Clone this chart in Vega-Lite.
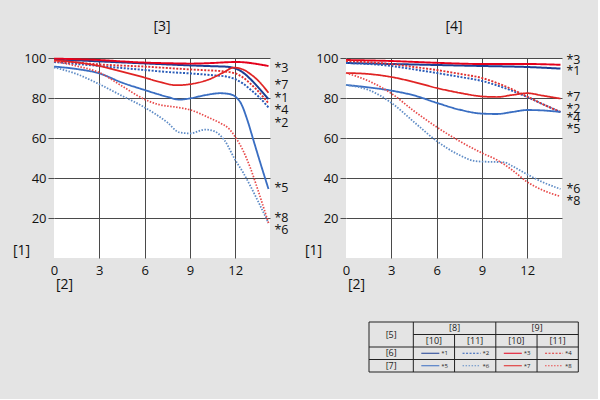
{
  "$schema": "https://vega.github.io/schema/vega-lite/v6.json",
  "background": "#e4e4e4",
  "padding": {"left": 12, "top": 20, "right": 17, "bottom": 26},
  "config": {
    "font": "Open Sans",
    "view": {"fill": "white", "stroke": null},
    "axis": {"gridColor": "#4a4a4a", "gridWidth": 1, "labelFontSize": 13, "labelColor": "#111", "titleFontSize": 14, "titleFontWeight": "normal", "titleColor": "#111", "domain": false, "labelFont": "Open Sans", "titleFont": "Open Sans"},
    "title": {"fontSize": 14, "fontWeight": "normal", "color": "#111", "offset": 18, "font": "Open Sans"}
  },
  "datasets": {
    "leftLines": [
      {"series": "*1", "x": 0, "y": 99}, {"series": "*1", "x": 1.5, "y": 98.8}, {"series": "*1", "x": 3, "y": 98.3}, {"series": "*1", "x": 4.5, "y": 97.8}, {"series": "*1", "x": 6, "y": 97.3}, {"series": "*1", "x": 7.5, "y": 96.8}, {"series": "*1", "x": 9, "y": 96.3}, {"series": "*1", "x": 10.5, "y": 95.9}, {"series": "*1", "x": 11.5, "y": 95.6}, {"series": "*1", "x": 12, "y": 94.8}, {"series": "*1", "x": 12.5, "y": 92.8}, {"series": "*1", "x": 13, "y": 89.5}, {"series": "*1", "x": 13.5, "y": 85.5}, {"series": "*1", "x": 14.2, "y": 79.4},
      {"series": "*2", "x": 0, "y": 98}, {"series": "*2", "x": 1.5, "y": 97}, {"series": "*2", "x": 3, "y": 96}, {"series": "*2", "x": 4.5, "y": 95}, {"series": "*2", "x": 6, "y": 94}, {"series": "*2", "x": 7.5, "y": 93}, {"series": "*2", "x": 9, "y": 92.3}, {"series": "*2", "x": 10.5, "y": 91.4}, {"series": "*2", "x": 11.5, "y": 90.6}, {"series": "*2", "x": 12, "y": 89.4}, {"series": "*2", "x": 12.5, "y": 87.3}, {"series": "*2", "x": 13, "y": 84.3}, {"series": "*2", "x": 13.5, "y": 81}, {"series": "*2", "x": 14.2, "y": 75.3},
      {"series": "*3", "x": 0, "y": 99.7}, {"series": "*3", "x": 1.5, "y": 99.4}, {"series": "*3", "x": 3, "y": 99}, {"series": "*3", "x": 4.5, "y": 98.3}, {"series": "*3", "x": 6, "y": 97.7}, {"series": "*3", "x": 7.5, "y": 97.4}, {"series": "*3", "x": 9, "y": 97.2}, {"series": "*3", "x": 10.5, "y": 97.5}, {"series": "*3", "x": 11.5, "y": 97.9}, {"series": "*3", "x": 12, "y": 98}, {"series": "*3", "x": 12.5, "y": 97.9}, {"series": "*3", "x": 13, "y": 97.5}, {"series": "*3", "x": 13.6, "y": 96.8}, {"series": "*3", "x": 14.2, "y": 96},
      {"series": "*4", "x": 0, "y": 98.6}, {"series": "*4", "x": 1.5, "y": 97.7}, {"series": "*4", "x": 3, "y": 96.8}, {"series": "*4", "x": 4.5, "y": 96.2}, {"series": "*4", "x": 6, "y": 95.7}, {"series": "*4", "x": 7.5, "y": 95}, {"series": "*4", "x": 9, "y": 94.3}, {"series": "*4", "x": 10, "y": 93.9}, {"series": "*4", "x": 11, "y": 93.5}, {"series": "*4", "x": 12, "y": 92.3}, {"series": "*4", "x": 12.5, "y": 90.3}, {"series": "*4", "x": 13, "y": 87.2}, {"series": "*4", "x": 13.5, "y": 83.5}, {"series": "*4", "x": 14.2, "y": 77.4},
      {"series": "*5", "x": 0, "y": 95.7}, {"series": "*5", "x": 1.5, "y": 94.5}, {"series": "*5", "x": 3, "y": 92.3}, {"series": "*5", "x": 4.5, "y": 87.7}, {"series": "*5", "x": 6, "y": 84}, {"series": "*5", "x": 7.5, "y": 80.6}, {"series": "*5", "x": 8.3, "y": 79.2}, {"series": "*5", "x": 9, "y": 79.8}, {"series": "*5", "x": 10, "y": 81.4}, {"series": "*5", "x": 11, "y": 82.4}, {"series": "*5", "x": 11.6, "y": 82}, {"series": "*5", "x": 12, "y": 80.7}, {"series": "*5", "x": 12.4, "y": 77}, {"series": "*5", "x": 12.8, "y": 69}, {"series": "*5", "x": 13.2, "y": 59}, {"series": "*5", "x": 13.6, "y": 49}, {"series": "*5", "x": 14.2, "y": 34.5},
      {"series": "*6", "x": 0, "y": 95.3}, {"series": "*6", "x": 1.5, "y": 92}, {"series": "*6", "x": 3, "y": 86.9}, {"series": "*6", "x": 4.5, "y": 81.1}, {"series": "*6", "x": 6, "y": 75.3}, {"series": "*6", "x": 7.5, "y": 67.8}, {"series": "*6", "x": 8.3, "y": 62.8}, {"series": "*6", "x": 9, "y": 62.3}, {"series": "*6", "x": 10, "y": 64.2}, {"series": "*6", "x": 10.5, "y": 63.7}, {"series": "*6", "x": 11.3, "y": 58.7}, {"series": "*6", "x": 12, "y": 49}, {"series": "*6", "x": 12.5, "y": 43}, {"series": "*6", "x": 13, "y": 36}, {"series": "*6", "x": 13.5, "y": 28.5}, {"series": "*6", "x": 14.2, "y": 17.5},
      {"series": "*7", "x": 0, "y": 98.8}, {"series": "*7", "x": 1.5, "y": 97.8}, {"series": "*7", "x": 3, "y": 96}, {"series": "*7", "x": 4.5, "y": 93.2}, {"series": "*7", "x": 6, "y": 90.2}, {"series": "*7", "x": 7, "y": 88}, {"series": "*7", "x": 8.1, "y": 86.4}, {"series": "*7", "x": 9, "y": 86.9}, {"series": "*7", "x": 10.3, "y": 89.4}, {"series": "*7", "x": 11.2, "y": 92.7}, {"series": "*7", "x": 11.9, "y": 95.2}, {"series": "*7", "x": 12.5, "y": 94.3}, {"series": "*7", "x": 13, "y": 92}, {"series": "*7", "x": 13.5, "y": 88.8}, {"series": "*7", "x": 14.2, "y": 82.6},
      {"series": "*8", "x": 0, "y": 98.3}, {"series": "*8", "x": 1.5, "y": 96}, {"series": "*8", "x": 3, "y": 92.7}, {"series": "*8", "x": 4.5, "y": 86}, {"series": "*8", "x": 6, "y": 79.3}, {"series": "*8", "x": 7, "y": 76.6}, {"series": "*8", "x": 8, "y": 75.5}, {"series": "*8", "x": 9, "y": 74.1}, {"series": "*8", "x": 10.3, "y": 70}, {"series": "*8", "x": 11, "y": 67.5}, {"series": "*8", "x": 11.6, "y": 64.5}, {"series": "*8", "x": 12, "y": 60.5}, {"series": "*8", "x": 12.5, "y": 54}, {"series": "*8", "x": 13, "y": 45}, {"series": "*8", "x": 13.5, "y": 34}, {"series": "*8", "x": 14.2, "y": 17.5}
    ],
    "rightLines": [
      {"series": "*1", "x": 0, "y": 97.5}, {"series": "*1", "x": 3, "y": 97}, {"series": "*1", "x": 6, "y": 96.5}, {"series": "*1", "x": 9, "y": 96}, {"series": "*1", "x": 12, "y": 95.5}, {"series": "*1", "x": 14.2, "y": 94.7},
      {"series": "*2", "x": 0, "y": 97.5}, {"series": "*2", "x": 1.5, "y": 97}, {"series": "*2", "x": 3, "y": 96}, {"series": "*2", "x": 4.5, "y": 94.3}, {"series": "*2", "x": 6, "y": 92.5}, {"series": "*2", "x": 7.5, "y": 90.6}, {"series": "*2", "x": 9, "y": 88.5}, {"series": "*2", "x": 10.5, "y": 85}, {"series": "*2", "x": 12, "y": 80.5}, {"series": "*2", "x": 13, "y": 77}, {"series": "*2", "x": 14.2, "y": 73},
      {"series": "*3", "x": 0, "y": 99}, {"series": "*3", "x": 3, "y": 98.5}, {"series": "*3", "x": 6, "y": 97.6}, {"series": "*3", "x": 9, "y": 97}, {"series": "*3", "x": 12, "y": 97}, {"series": "*3", "x": 14.2, "y": 96.6},
      {"series": "*4", "x": 0, "y": 98.5}, {"series": "*4", "x": 1.5, "y": 97.9}, {"series": "*4", "x": 3, "y": 97}, {"series": "*4", "x": 4.5, "y": 95.5}, {"series": "*4", "x": 6, "y": 94}, {"series": "*4", "x": 7.5, "y": 92.1}, {"series": "*4", "x": 9, "y": 90}, {"series": "*4", "x": 10.5, "y": 86}, {"series": "*4", "x": 12, "y": 80.7}, {"series": "*4", "x": 13, "y": 77}, {"series": "*4", "x": 14.2, "y": 73},
      {"series": "*5", "x": 0, "y": 86.5}, {"series": "*5", "x": 1.5, "y": 85.3}, {"series": "*5", "x": 3, "y": 83.7}, {"series": "*5", "x": 4.5, "y": 81.3}, {"series": "*5", "x": 6, "y": 77.6}, {"series": "*5", "x": 7.5, "y": 74.2}, {"series": "*5", "x": 9, "y": 72.2}, {"series": "*5", "x": 10, "y": 72}, {"series": "*5", "x": 11, "y": 73}, {"series": "*5", "x": 12, "y": 74}, {"series": "*5", "x": 13, "y": 73.8}, {"series": "*5", "x": 14.2, "y": 73},
      {"series": "*6", "x": 0, "y": 86.5}, {"series": "*6", "x": 1.5, "y": 84}, {"series": "*6", "x": 3, "y": 77.6}, {"series": "*6", "x": 4.5, "y": 68}, {"series": "*6", "x": 6, "y": 58.5}, {"series": "*6", "x": 7.5, "y": 51.5}, {"series": "*6", "x": 8.5, "y": 48.5}, {"series": "*6", "x": 9, "y": 48.2}, {"series": "*6", "x": 10, "y": 48}, {"series": "*6", "x": 10.5, "y": 47.8}, {"series": "*6", "x": 11, "y": 46}, {"series": "*6", "x": 12, "y": 41.8}, {"series": "*6", "x": 13, "y": 38}, {"series": "*6", "x": 14.2, "y": 34.5},
      {"series": "*7", "x": 0, "y": 92.5}, {"series": "*7", "x": 1.5, "y": 92}, {"series": "*7", "x": 3, "y": 90.5}, {"series": "*7", "x": 4.5, "y": 88}, {"series": "*7", "x": 6, "y": 85}, {"series": "*7", "x": 7.5, "y": 82.6}, {"series": "*7", "x": 9, "y": 80.8}, {"series": "*7", "x": 10, "y": 80.5}, {"series": "*7", "x": 11, "y": 81.5}, {"series": "*7", "x": 12, "y": 82.4}, {"series": "*7", "x": 13, "y": 81.2}, {"series": "*7", "x": 14.2, "y": 79.7},
      {"series": "*8", "x": 0, "y": 92.5}, {"series": "*8", "x": 1.5, "y": 88.5}, {"series": "*8", "x": 3, "y": 82.3}, {"series": "*8", "x": 4.5, "y": 73.5}, {"series": "*8", "x": 6, "y": 65.5}, {"series": "*8", "x": 7.5, "y": 58.5}, {"series": "*8", "x": 9, "y": 52.5}, {"series": "*8", "x": 10, "y": 49}, {"series": "*8", "x": 11, "y": 44}, {"series": "*8", "x": 12, "y": 38}, {"series": "*8", "x": 13, "y": 34}, {"series": "*8", "x": 14.2, "y": 30.8}
    ],
    "leftLabels": [
      {"series": "*3", "x": 14.2, "y": 95}, {"series": "*7", "x": 14.2, "y": 86.4}, {"series": "*1", "x": 14.2, "y": 80.1}, {"series": "*4", "x": 14.2, "y": 74}, {"series": "*2", "x": 14.2, "y": 67.7}, {"series": "*5", "x": 14.2, "y": 34.8}, {"series": "*8", "x": 14.2, "y": 19.9}, {"series": "*6", "x": 14.2, "y": 13.8}
    ],
    "rightLabels": [
      {"series": "*3", "x": 14.2, "y": 98.8}, {"series": "*1", "x": 14.2, "y": 93.7}, {"series": "*7", "x": 14.2, "y": 80.6}, {"series": "*2", "x": 14.2, "y": 74.6}, {"series": "*4", "x": 14.2, "y": 70.1}, {"series": "*5", "x": 14.2, "y": 64.7}, {"series": "*6", "x": 14.2, "y": 34.5}, {"series": "*8", "x": 14.2, "y": 28.7}
    ],
    "tableH": [
      {"a": -0.074, "b": 5, "y": 0}, {"a": 1, "b": 5, "y": 1}, {"a": -0.074, "b": 5, "y": 2}, {"a": -0.074, "b": 5, "y": 3}, {"a": -0.074, "b": 5, "y": 4}
    ],
    "tableV": [
      {"x": -0.074, "a": 0, "b": 4}, {"x": 1, "a": 0, "b": 4}, {"x": 2, "a": 1, "b": 4}, {"x": 3, "a": 0, "b": 4}, {"x": 4, "a": 1, "b": 4}, {"x": 5, "a": 0, "b": 4}
    ],
    "tableText": [
      {"t": "[5]", "x": 0.463, "y": 1}, {"t": "[8]", "x": 2, "y": 0.5}, {"t": "[9]", "x": 4, "y": 0.5},
      {"t": "[10]", "x": 1.5, "y": 1.5}, {"t": "[11]", "x": 2.5, "y": 1.5}, {"t": "[10]", "x": 3.5, "y": 1.5}, {"t": "[11]", "x": 4.5, "y": 1.5},
      {"t": "[6]", "x": 0.463, "y": 2.5}, {"t": "[7]", "x": 0.463, "y": 3.5}
    ],
    "tableKeys": [
      {"series": "*1", "col": 1, "row": 2.5}, {"series": "*2", "col": 2, "row": 2.5}, {"series": "*3", "col": 3, "row": 2.5}, {"series": "*4", "col": 4, "row": 2.5},
      {"series": "*5", "col": 1, "row": 3.5}, {"series": "*6", "col": 2, "row": 3.5}, {"series": "*7", "col": 3, "row": 3.5}, {"series": "*8", "col": 4, "row": 3.5}
    ]
  },
  "spacing": 15,
  "hconcat": [
    {
      "width": 216,
      "height": 200,
      "title": {"text": "[3]"},
      "layer": [
        {
          "data": {"name": "leftLines"},
          "mark": {"type": "line", "interpolate": "monotone"},
          "encoding": {
            "x": {"field": "x", "type": "quantitative", "scale": {"domain": [0, 14.3], "nice": false}, "axis": {"values": [0, 3, 6, 9, 12], "ticks": false, "labelPadding": 6, "labelFlush": false, "title": "[2]", "titleX": 10, "titleY": 26, "titleBaseline": "middle", "titleAlign": "center", "gridOpacity": {"condition": {"test": "datum.value === 0", "value": 0}, "value": 1}}},
            "y": {"field": "y", "type": "quantitative", "scale": {"domain": [0, 100], "nice": false}, "axis": {"values": [20, 40, 60, 80, 100], "tickSize": 6, "tickColor": "#4a4a4a", "labelPadding": 2, "title": "[1]", "titleAngle": 0, "titleX": -33, "titleY": 192, "titleBaseline": "middle", "titleAlign": "center"}},
            "color": {"field": "series", "type": "nominal", "legend": null, "scale": {"domain": ["*1", "*2", "*3", "*4", "*5", "*6", "*7", "*8"], "range": ["#1c3f94", "#2a5cb8", "#e4001b", "#e03030", "#3a6ec2", "#5f8cc6", "#e02424", "#e84a4a"]}},
            "strokeDash": {"field": "series", "type": "nominal", "legend": null, "scale": {"domain": ["*1", "*2", "*3", "*4", "*5", "*6", "*7", "*8"], "range": [[1, 0], [2, 1.5], [1, 0], [2, 1.5], [1, 0], [1.5, 1.5], [1, 0], [1.5, 1.5]]}},
            "strokeWidth": {"field": "series", "type": "nominal", "legend": null, "scale": {"domain": ["*1", "*2", "*3", "*4", "*5", "*6", "*7", "*8"], "range": [2, 1.7, 2.2, 1.5, 1.1, 1, 1.3, 1]}}
          }
        },
        {
          "data": {"name": "leftLabels"},
          "mark": {"type": "text", "align": "left", "baseline": "middle", "dx": 6, "fontSize": 12.5, "color": "#111"},
          "encoding": {
            "x": {"field": "x", "type": "quantitative"},
            "y": {"field": "y", "type": "quantitative"},
            "text": {"field": "series"}
          }
        }
      ]
    },
    {
      "vconcat": [
        {
          "width": 216,
          "height": 200,
          "title": {"text": "[4]"},
          "layer": [
            {
              "data": {"name": "rightLines"},
              "mark": {"type": "line", "interpolate": "monotone"},
              "encoding": {
                "x": {"field": "x", "type": "quantitative", "scale": {"domain": [0, 14.3], "nice": false}, "axis": {"values": [0, 3, 6, 9, 12], "ticks": false, "labelPadding": 6, "labelFlush": false, "title": "[2]", "titleX": 10, "titleY": 26, "titleBaseline": "middle", "titleAlign": "center", "gridOpacity": {"condition": {"test": "datum.value === 0", "value": 0}, "value": 1}}},
                "y": {"field": "y", "type": "quantitative", "scale": {"domain": [0, 100], "nice": false}, "axis": {"values": [20, 40, 60, 80, 100], "tickSize": 6, "tickColor": "#4a4a4a", "labelPadding": 2, "title": "[1]", "titleAngle": 0, "titleX": -33, "titleY": 192, "titleBaseline": "middle", "titleAlign": "center"}},
                "color": {"field": "series", "type": "nominal", "legend": null, "scale": {"domain": ["*1", "*2", "*3", "*4", "*5", "*6", "*7", "*8"], "range": ["#1c3f94", "#2a5cb8", "#e4001b", "#e03030", "#3a6ec2", "#5f8cc6", "#e02424", "#e84a4a"]}},
                "strokeDash": {"field": "series", "type": "nominal", "legend": null, "scale": {"domain": ["*1", "*2", "*3", "*4", "*5", "*6", "*7", "*8"], "range": [[1, 0], [2, 1.5], [1, 0], [2, 1.5], [1, 0], [1.5, 1.5], [1, 0], [1.5, 1.5]]}},
                "strokeWidth": {"field": "series", "type": "nominal", "legend": null, "scale": {"domain": ["*1", "*2", "*3", "*4", "*5", "*6", "*7", "*8"], "range": [2, 1.7, 2.2, 1.5, 1.1, 1, 1.3, 1]}}
              }
            },
            {
              "data": {"name": "rightLabels"},
              "mark": {"type": "text", "align": "left", "baseline": "middle", "dx": 6, "fontSize": 12.5, "color": "#111"},
              "encoding": {
                "x": {"field": "x", "type": "quantitative"},
                "y": {"field": "y", "type": "quantitative"},
                "text": {"field": "series"}
              }
            }
          ]
        },
        {
          "width": 232.3,
          "height": 50,
          "view": {"fill": "transparent", "stroke": null},
          "layer": [
            {
              "data": {"name": "tableH"},
              "mark": {"type": "rule", "color": "#222", "strokeWidth": 1},
              "encoding": {
                "x": {"field": "a", "type": "quantitative", "scale": {"domain": [-0.632, 5], "nice": false, "zero": false}, "axis": null},
                "x2": {"field": "b"},
                "y": {"field": "y", "type": "quantitative", "scale": {"domain": [0, 4], "nice": false, "reverse": true}, "axis": null}
              }
            },
            {
              "data": {"name": "tableV"},
              "mark": {"type": "rule", "color": "#222", "strokeWidth": 1},
              "encoding": {
                "x": {"field": "x", "type": "quantitative"},
                "y": {"field": "a", "type": "quantitative"},
                "y2": {"field": "b"}
              }
            },
            {
              "data": {"name": "tableText"},
              "mark": {"type": "text", "fontSize": 9, "baseline": "middle", "align": "center", "color": "#222"},
              "encoding": {
                "x": {"field": "x", "type": "quantitative"},
                "y": {"field": "y", "type": "quantitative"},
                "text": {"field": "t"}
              }
            },
            {
              "data": {"name": "tableKeys"},
              "mark": {"type": "rule", "strokeWidth": 1.2, "xOffset": 8, "x2Offset": 26},
              "encoding": {
                "x": {"field": "col", "type": "quantitative"},
                "x2": {"field": "col"},
                "y": {"field": "row", "type": "quantitative"},
                "color": {"field": "series", "type": "nominal", "legend": null},
                "strokeDash": {"field": "series", "type": "nominal", "legend": null}
              }
            },
            {
              "data": {"name": "tableKeys"},
              "mark": {"type": "text", "fontSize": 6, "dx": 28, "align": "left", "baseline": "middle", "color": "#222"},
              "encoding": {
                "x": {"field": "col", "type": "quantitative"},
                "y": {"field": "row", "type": "quantitative"},
                "text": {"field": "series"}
              }
            }
          ]
        }
      ],
      "spacing": 64,
      "bounds": "flush"
    }
  ]
}
